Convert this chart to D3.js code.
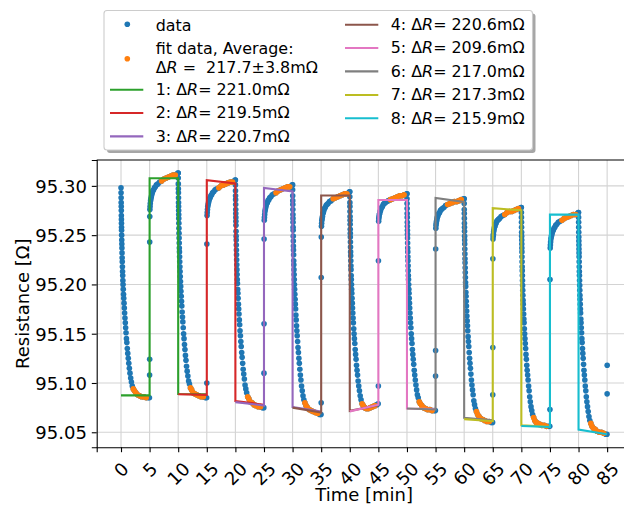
<!DOCTYPE html>
<html>
<head>
<meta charset="utf-8">
<script src="https://cdn.jsdelivr.net/npm/d3@7"></script>
<style>
  body { margin: 0; background: #fff; }
  text { font-family: "DejaVu Sans", sans-serif; fill: #000; }
</style>
</head>
<body>
<div id="chart"></div>
<script>
// --- data ------------------------------------------------------------
// cooling halves start every 10 min, values in Ohm at minutes after start
const fallStarts = [0, 10, 20, 30, 40, 50, 60, 70, 80];
const fallOffsets = [0, 0.01, 0.02, 0.03, 0.04, 0.05, 0.06, 0.07, 0.08, 0.09, 0.10, 0.115, 0.13, 0.145, 0.16, 0.18, 0.20, 0.22, 0.245, 0.27,
  0.30, 0.33, 0.36, 0.40, 0.44, 0.48, 0.53, 0.58, 0.63, 0.69, 0.75, 0.81, 0.88, 0.95, 1.02, 1.10, 1.18, 1.27, 1.36, 1.46,
  1.57, 1.69, 1.82, 1.97, 2.15, 2.35, 2.6, 2.9, 3.25, 3.6, 4.0, 4.4, 4.75, 4.97];
const fall0 = [95.298,95.293,95.288,95.283,95.279,95.275,95.270,95.266,95.262,95.258,95.255,95.250,95.245,95.241,95.237,95.232,95.227,95.223,95.218,95.213,
  95.209,95.204,95.200,95.195,95.190,95.186,95.181,95.176,95.171,95.166,95.161,95.156,95.151,95.145,95.141,95.135,95.130,95.125,95.120,95.115,
  95.110,95.105,95.101,95.097,95.094,95.092,95.090,95.088,95.087,95.086,95.086,95.085,95.085,95.085];
const fall10 = [95.313,95.308,95.302,95.297,95.293,95.288,95.283,95.279,95.275,95.271,95.267,95.262,95.257,95.252,95.247,95.242,95.237,95.233,95.228,95.223,
  95.218,95.213,95.208,95.203,95.198,95.193,95.188,95.183,95.178,95.172,95.167,95.162,95.156,95.150,95.145,95.139,95.134,95.128,95.123,95.117,
  95.112,95.107,95.102,95.099,95.095,95.093,95.090,95.089,95.088,95.087,95.086,95.086,95.085,95.085];
const fall20 = [95.306,95.301,95.295,95.290,95.286,95.281,95.276,95.272,95.268,95.264,95.260,95.254,95.249,95.245,95.240,95.235,95.230,95.225,95.220,95.215,
  95.210,95.205,95.201,95.195,95.191,95.186,95.180,95.175,95.170,95.164,95.159,95.153,95.148,95.142,95.137,95.131,95.126,95.120,95.114,95.109,
  95.104,95.098,95.094,95.090,95.086,95.084,95.081,95.080,95.078,95.077,95.076,95.076,95.075,95.075];
const fall30 = [95.301,95.296,95.290,95.285,95.281,95.276,95.271,95.267,95.263,95.258,95.255,95.249,95.244,95.239,95.235,95.230,95.224,95.220,95.215,95.210,
  95.205,95.200,95.195,95.190,95.185,95.180,95.175,95.169,95.164,95.158,95.153,95.148,95.142,95.136,95.131,95.125,95.120,95.114,95.108,95.103,
  95.097,95.092,95.087,95.083,95.080,95.077,95.075,95.073,95.072,95.071,95.070,95.069,95.068,95.068];
const fall40 = [95.294,95.289,95.283,95.279,95.274,95.269,95.265,95.261,95.256,95.252,95.248,95.243,95.238,95.233,95.229,95.224,95.219,95.215,95.209,95.205,
  95.200,95.195,95.191,95.186,95.181,95.176,95.171,95.166,95.161,95.155,95.150,95.145,95.140,95.134,95.129,95.124,95.118,95.113,95.108,95.102,
  95.097,95.092,95.087,95.083,95.079,95.077,95.075,95.074,95.074,95.075,95.076,95.077,95.078,95.079];
const fall50 = [95.292,95.287,95.282,95.277,95.272,95.268,95.263,95.259,95.255,95.251,95.247,95.242,95.237,95.233,95.228,95.224,95.219,95.214,95.209,95.205,
  95.200,95.195,95.191,95.186,95.181,95.176,95.171,95.166,95.161,95.156,95.150,95.145,95.140,95.134,95.129,95.124,95.119,95.113,95.108,95.103,
  95.098,95.093,95.088,95.085,95.081,95.079,95.077,95.075,95.074,95.073,95.073,95.072,95.072,95.072];
const fall60 = [95.287,95.282,95.276,95.272,95.267,95.262,95.258,95.254,95.249,95.245,95.241,95.236,95.231,95.226,95.222,95.217,95.212,95.207,95.202,95.198,
  95.192,95.188,95.183,95.178,95.173,95.168,95.163,95.158,95.153,95.147,95.142,95.137,95.131,95.125,95.120,95.115,95.109,95.103,95.098,95.093,
  95.088,95.082,95.078,95.074,95.071,95.068,95.066,95.064,95.063,95.062,95.061,95.061,95.060,95.060];
const fall70 = [95.278,95.273,95.268,95.263,95.258,95.253,95.249,95.245,95.241,95.237,95.233,95.228,95.223,95.218,95.214,95.209,95.204,95.199,95.194,95.189,
  95.184,95.180,95.175,95.170,95.165,95.161,95.155,95.150,95.145,95.140,95.135,95.129,95.124,95.118,95.113,95.108,95.103,95.097,95.092,95.086,
  95.081,95.076,95.072,95.068,95.065,95.062,95.060,95.059,95.058,95.057,95.057,95.056,95.056,95.056];
const fall80 = [95.273,95.268,95.263,95.258,95.253,95.248,95.244,95.240,95.236,95.232,95.228,95.223,95.218,95.213,95.209,95.204,95.199,95.194,95.189,95.185,
  95.180,95.175,95.171,95.165,95.161,95.156,95.151,95.145,95.141,95.135,95.130,95.125,95.119,95.113,95.108,95.103,95.097,95.092,95.086,95.081,
  95.076,95.071,95.066,95.062,95.059,95.056,95.054,95.053,95.051,95.050,95.050,95.049,95.048,95.048];

// heating halves: a few points during the jump, then the slow rise
const riseStarts = [5, 15, 25, 35, 45, 55, 65, 75];
const jump5 = [95.108, 95.124, 95.243, 95.269];
const jump15 = [95.100, 95.241];
const jump25 = [95.110, 95.160, 95.246];
const jump35 = [95.080, 95.207, 95.248];
const jump45 = [95.097, 95.224];
const jump55 = [95.107, 95.133, 95.236];
const jump65 = [95.088, 95.136, 95.226];
const jump75 = [95.073, 95.205];
const jump85 = [95.089, 95.118];
const riseOffsets = [0.05, 0.08, 0.12, 0.17, 0.23, 0.3, 0.38, 0.47, 0.58, 0.7, 0.85, 1.0, 1.2, 1.45, 1.75, 2.1, 2.5, 2.9, 3.3, 3.7, 4.1, 4.5, 4.8, 4.97];
const rise5 = [95.276,95.279,95.282,95.285,95.287,95.289,95.291,95.293,95.295,95.296,95.298,95.299,95.301,95.302,95.304,95.305,95.307,95.308,95.309,95.310,95.311,95.311,95.312,95.313];
const rise15 = [95.270,95.273,95.276,95.279,95.281,95.283,95.285,95.287,95.288,95.290,95.291,95.293,95.294,95.296,95.297,95.298,95.300,95.301,95.302,95.303,95.304,95.304,95.305,95.306];
const rise25 = [95.265,95.268,95.271,95.274,95.276,95.278,95.280,95.282,95.283,95.285,95.286,95.288,95.289,95.291,95.292,95.293,95.295,95.296,95.297,95.298,95.299,95.299,95.300,95.301];
const rise35 = [95.259,95.262,95.265,95.267,95.269,95.272,95.273,95.275,95.277,95.278,95.280,95.281,95.282,95.284,95.285,95.287,95.288,95.289,95.290,95.291,95.292,95.292,95.293,95.294];
const rise45 = [95.264,95.267,95.269,95.271,95.272,95.274,95.275,95.277,95.278,95.279,95.281,95.282,95.283,95.284,95.285,95.286,95.287,95.288,95.289,95.290,95.290,95.291,95.291,95.292];
const rise55 = [95.257,95.260,95.262,95.264,95.266,95.268,95.269,95.271,95.272,95.273,95.275,95.276,95.277,95.278,95.280,95.281,95.282,95.283,95.284,95.284,95.285,95.286,95.286,95.287];
const rise65 = [95.246,95.249,95.251,95.254,95.256,95.258,95.259,95.261,95.262,95.264,95.265,95.266,95.267,95.269,95.270,95.271,95.273,95.274,95.274,95.275,95.276,95.277,95.277,95.278];
const rise75 = [95.237,95.240,95.243,95.246,95.248,95.250,95.252,95.254,95.255,95.257,95.258,95.260,95.261,95.263,95.264,95.265,95.267,95.268,95.269,95.270,95.271,95.271,95.272,95.273];

// part of each half period used for the fit (minutes after the switch)
const fitWindow = [2.0, 4.7];

// step fits: low / high / low levels, value at start and end of each 5 min piece
const fitStarts = [0, 10, 20, 30, 40, 50, 60, 70];
const fitLow1Start = [95.0874, 95.0886, 95.0806, 95.0750, 95.0712, 95.0741, 95.0633, 95.0564];
const fitLow1End = [95.0874, 95.0880, 95.0772, 95.0700, 95.0780, 95.0731, 95.0612, 95.0554];
const fitHighStart = [95.3078, 95.3058, 95.2980, 95.2902, 95.2857, 95.2878, 95.2773, 95.2708];
const fitHighEnd = [95.3078, 95.3024, 95.2943, 95.2902, 95.2857, 95.2837, 95.2752, 95.2708];
const fitLow2Start = [95.0888, 95.0816, 95.0755, 95.0717, 95.0741, 95.0646, 95.0571, 95.0527];
const fitLow2End = [95.0885, 95.0780, 95.0710, 95.0775, 95.0735, 95.0622, 95.0555, 95.0480];
const fitDeltaR = ['221.0', '219.5', '220.7', '220.6', '209.6', '217.0', '217.3', '215.9'];
const averageText = '217.7±3.8mΩ';

const xTicks = d3.range(0, 90, 5);
const yTicks = [95.05, 95.10, 95.15, 95.20, 95.25, 95.30];

const fitColors = ['#2ca02c', '#d62728', '#9467bd', '#8c564b', '#e377c2', '#7f7f7f', '#bcbd22', '#17becf'];
const dataColor = '#1f77b4';
const fitDataColor = '#ff7f0e';

// --- build point list ---------------------------------------------------
const fallSeries = [fall0, fall10, fall20, fall30, fall40, fall50, fall60, fall70, fall80];
const jumpSeries = [jump5, jump15, jump25, jump35, jump45, jump55, jump65, jump75];
const riseSeries = [rise5, rise15, rise25, rise35, rise45, rise55, rise65, rise75];

const points = [];
fallStarts.forEach((t0, i) => {
  fallSeries[i].forEach((r, j) => points.push({ t: t0 + fallOffsets[j], r: r, off: fallOffsets[j] }));
});
riseStarts.forEach((t0, i) => {
  jumpSeries[i].forEach((r, j) => points.push({ t: t0 + 0.01 * j, r: r, off: 0 }));
  riseSeries[i].forEach((r, j) => points.push({ t: t0 + riseOffsets[j], r: r, off: riseOffsets[j] }));
});
jump85.forEach((r, j) => points.push({ t: 85 + 0.01 * j, r: r, off: 0 }));

const fitPoints = points.filter((p) => p.off >= fitWindow[0] && p.off <= fitWindow[1]);

// --- chart -----------------------------------------------------------------
const size = { width: 624, height: 505 };
const box = { left: 96.7, right: 631.5, top: 160, bottom: 447.3 };
const fs = 18;
const dotR = 2.8;

const svg = d3.select('#chart').append('svg')
  .attr('width', size.width)
  .attr('height', size.height);

const tExt = d3.extent(points, (d) => d.t);
const rExt = d3.extent(points, (d) => d.r);
const tPad = (tExt[1] - tExt[0]) * 0.05;
const rPad = (rExt[1] - rExt[0]) * 0.05;

const x = d3.scaleLinear().domain([tExt[0] - tPad, tExt[1] + tPad]).range([box.left, box.right]);
const y = d3.scaleLinear().domain([rExt[0] - rPad, rExt[1] + rPad]).range([box.bottom, box.top]);

// grid
const grid = svg.append('g').attr('stroke', '#d3d3d3').attr('stroke-width', 1.1);
grid.selectAll('.gx').data(xTicks).enter().append('line')
  .attr('x1', (d) => x(d)).attr('x2', (d) => x(d))
  .attr('y1', box.top).attr('y2', box.bottom);
grid.selectAll('.gy').data(yTicks).enter().append('line')
  .attr('x1', box.left).attr('x2', box.right)
  .attr('y1', (d) => y(d)).attr('y2', (d) => y(d));

svg.append('clipPath').attr('id', 'clip').append('rect')
  .attr('x', box.left).attr('y', box.top)
  .attr('width', box.right - box.left).attr('height', box.bottom - box.top);

const area = svg.append('g').attr('clip-path', 'url(#clip)');

area.append('g').selectAll('circle').data(points).enter().append('circle')
  .attr('cx', (d) => x(d.t)).attr('cy', (d) => y(d.r)).attr('r', dotR)
  .attr('fill', dataColor);

area.append('g').selectAll('circle').data(fitPoints).enter().append('circle')
  .attr('cx', (d) => x(d.t)).attr('cy', (d) => y(d.r)).attr('r', dotR)
  .attr('fill', fitDataColor);

const line = d3.line().x((d) => x(d[0])).y((d) => y(d[1]));
fitStarts.forEach((t0, k) => {
  const pts = [
    [t0, fitLow1Start[k]], [t0 + 5, fitLow1End[k]],
    [t0 + 5, fitHighStart[k]], [t0 + 10, fitHighEnd[k]],
    [t0 + 10, fitLow2Start[k]], [t0 + 15, fitLow2End[k]],
  ];
  area.append('path').datum(pts).attr('d', line)
    .attr('fill', 'none').attr('stroke', fitColors[k]).attr('stroke-width', 2.1);
});

// axes
const yAxis = svg.append('g').attr('transform', `translate(${box.left},0)`)
  .call(d3.axisLeft(y).tickValues(yTicks).tickFormat(d3.format('.2f')).tickSizeOuter(0).tickSize(4.9).tickPadding(4.9));
const xAxis = svg.append('g').attr('transform', `translate(0,${box.bottom})`)
  .call(d3.axisBottom(x).tickValues(xTicks).tickSizeOuter(0).tickSize(4.9).tickPadding(4.9));

[yAxis, xAxis].forEach((a) => {
  a.selectAll('.domain').attr('stroke', '#000').attr('stroke-width', 1.1);
  a.selectAll('.tick line').attr('stroke', '#000').attr('stroke-width', 1.1);
  a.selectAll('text').style('font-family', '"DejaVu Sans", sans-serif').style('font-size', fs + 'px').attr('fill', '#000');
});
yAxis.selectAll('text').attr('dy', '0.36em');

// rotated x labels: bounding box top sits below the tick, centred on it
const labelTop = 4.9 + 6.2;
xAxis.selectAll('.tick text').each(function () {
  const el = d3.select(this);
  const w = this.getComputedTextLength();
  const hb = (w + 1.164 * fs) * Math.SQRT1_2;
  const cy = labelTop + hb / 2;
  el.attr('y', null).attr('dy', null)
    .attr('text-anchor', 'middle')
    .attr('transform', `translate(0,${cy}) rotate(-45)`)
    .attr('y', 0.346 * fs);
});

svg.append('line')
  .attr('x1', box.left).attr('x2', box.right).attr('y1', box.top).attr('y2', box.top)
  .attr('stroke', '#000').attr('stroke-width', 1.1);

svg.append('text')
  .attr('x', (box.left + box.right) / 2).attr('y', 501)
  .attr('text-anchor', 'middle').style('font-size', fs + 'px')
  .text('Time [min]');

svg.append('text')
  .attr('transform', `translate(28.5,${(box.top + box.bottom) / 2}) rotate(-90)`)
  .attr('text-anchor', 'middle').style('font-size', fs + 'px')
  .text('Resistance [Ω]');

// legend
const lg = svg.append('g');
const lfs = 15.9;
lg.append('rect').attr('x', 107).attr('y', 13.5).attr('width', 428.5).attr('height', 139.5)
  .attr('rx', 3).attr('fill', '#000').attr('opacity', 0.35);
lg.append('rect').attr('x', 104).attr('y', 10.5).attr('width', 428.5).attr('height', 139.5)
  .attr('rx', 3).attr('fill', '#fff').attr('stroke', '#cccccc').attr('stroke-width', 1.1);

const addDeltaText = (sel, parts) => {
  sel.append('tspan').text(parts[0] + 'Δ');
  sel.append('tspan').style('font-style', 'italic').text('R');
  sel.append('tspan').text(parts[1]);
};

lg.append('circle').attr('cx', 127.3).attr('cy', 24.3).attr('r', dotR).attr('fill', dataColor);
lg.append('text').attr('x', 155.7).attr('y', 30.7).style('font-size', lfs + 'px').text('data');

lg.append('circle').attr('cx', 127.3).attr('cy', 58.7).attr('r', dotR).attr('fill', fitDataColor);
lg.append('text').attr('x', 155.7).attr('y', 54).style('font-size', lfs + 'px').text('fit data, Average:');
addDeltaText(lg.append('text').attr('x', 155.7).attr('y', 72.7).style('font-size', lfs + 'px').style('white-space', 'pre'),
  ['', ' =  ' + averageText]);

const legendRows = [
  { col: 0, base: 95 }, { col: 0, base: 118.3 }, { col: 0, base: 141.7 },
  { col: 1, base: 30 }, { col: 1, base: 53.3 }, { col: 1, base: 76.7 }, { col: 1, base: 100.3 }, { col: 1, base: 123.6 },
];
const colX = [{ l0: 110, l1: 143.3, tx: 155.7 }, { l0: 345, l1: 378.3, tx: 390.7 }];
fitDeltaR.forEach((dr, k) => {
  const row = legendRows[k];
  const c = colX[row.col];
  lg.append('line').attr('x1', c.l0).attr('x2', c.l1)
    .attr('y1', row.base - 5.3).attr('y2', row.base - 5.3)
    .attr('stroke', fitColors[k]).attr('stroke-width', 2.1);
  addDeltaText(lg.append('text').attr('x', c.tx).attr('y', row.base).style('font-size', lfs + 'px'),
    [(k + 1) + ': ', '= ' + dr + 'mΩ']);
});
</script>
</body>
</html>
